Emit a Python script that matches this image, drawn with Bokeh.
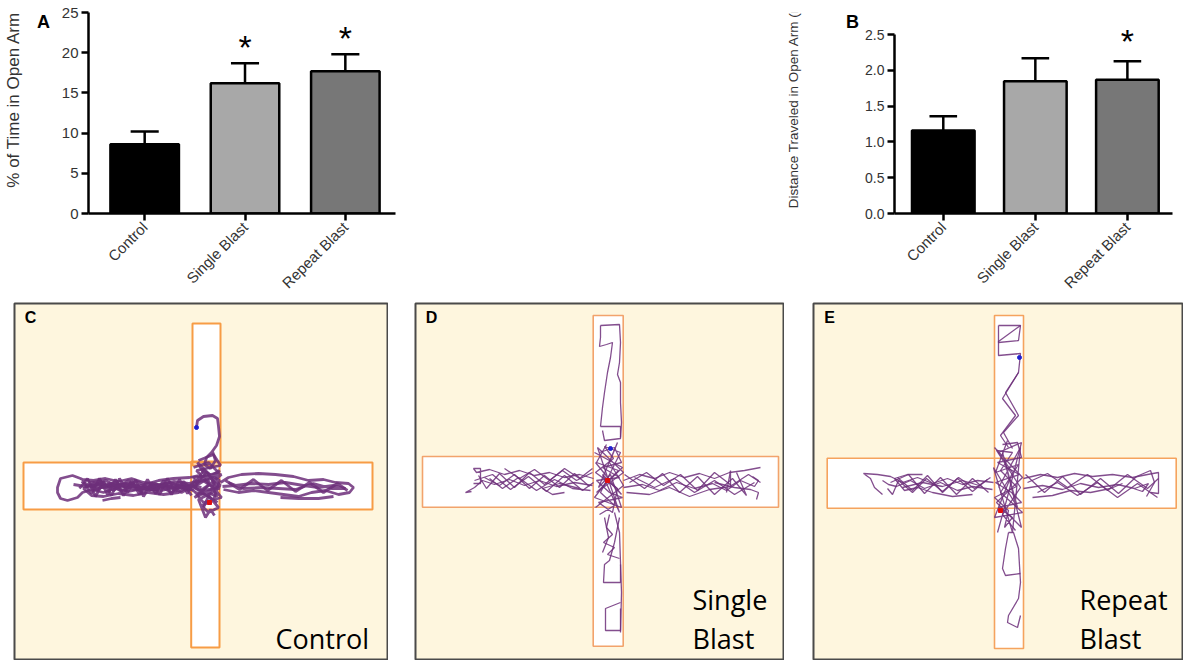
from bokeh.plotting import figure
from bokeh.layouts import column, row
from bokeh.models import Range1d, FixedTicker, Spacer
from bokeh.core.properties import value
from bokeh.embed import file_html
from bokeh.resources import INLINE

# ---------------- data ----------------
groups = ["Control", "Single Blast", "Repeat Blast"]
group_pos = [1, 2, 3]
bar_colors = ["#000000", "#a8a8a8", "#777777"]

time_mean = [8.6, 16.2, 17.7]
time_sem = [1.6, 2.5, 2.1]
time_star = [False, True, True]
time_ticks = [0, 5, 10, 15, 20, 25]

dist_mean = [1.16, 1.85, 1.87]
dist_sem = [0.20, 0.32, 0.26]
dist_star = [False, False, True]
dist_ticks = [0.0, 0.5, 1.0, 1.5, 2.0, 2.5]

# maze arms per panel (left, right, top, bottom) in panel pixel coords
maze_C = [(10, 359, 160, 207), (179, 207, 21, 163), (177.7, 206, 159, 345)]
maze_D = [(8, 364, 154, 204.7), (178.7, 208.7, 13, 343.7)]
maze_E = [(14.7, 363.7, 155.7, 205.7), (182, 211, 13, 346)]

track_C = [
    [(183,125),(184,118),(190,114),(199,113),(204,116),(205,124),(206,134),(203,143),(198,150),(193,155),(191,162),(197,166),(202,158),(199,149)],
    [(186,178),(175,181),(160,179),(145,182),(130,180),(118,176),(105,179),(92,176),(80,178),(69,177),(67,176),(59,173),(47,176),(44,185),(44,190),(47,196),(54,198),(64,195),(69,190),(78,187),(90,190),(102,186),(115,189),(130,186),(148,188),(163,185),(178,187)],
    [(178,182),(165,190),(150,192),(135,190),(120,193),(105,191),(90,194),(78,193),(70,186),(80,181),(95,183),(112,181),(128,183),(145,178),(160,176),(176,175),(185,173)],
    [(60,182),(72,184),(85,182),(100,185),(118,184),(138,187),(155,184),(172,183),(188,185)],
    [(75,180),(88,179),(100,188),(115,178),(128,190),(142,181),(158,190),(170,179),(182,190)],
    [(70,180),(78,191),(86,176),(94,192),(102,177),(110,193),(118,178),(126,192),(134,177),(142,191),(150,178),(158,192),(166,177),(174,191),(182,176)],
    [(66,186),(74,176),(82,194),(90,179),(98,193),(106,176),(114,190),(122,177),(130,194),(138,180),(146,192),(154,176),(162,189),(170,181),(178,193)],
    [(72,183),(90,185),(108,182),(126,185),(144,183),(162,186),(180,183)],
    [(80,188),(100,180),(120,187),(140,184),(160,181),(180,188)],
    [(68,179),(84,187),(96,181),(108,189),(120,182),(136,188),(152,182),(168,190),(184,181)],
    [(76,185),(92,178),(104,184),(124,179),(140,188),(156,180),(172,186),(186,178)],
    [(89,198),(98,196),(107,195)],
    [(207,180),(215,175),(228,172),(245,171),(262,172),(280,174),(295,178),(310,177),(322,180),(335,181),(340,185),(336,190),(325,192),(312,188),(298,190),(285,194),(270,192),(255,190),(240,188),(225,190),(210,187)],
    [(209,184),(222,183),(238,181),(255,182),(272,180),(290,183),(305,185),(320,183),(332,186),(318,186),(300,181),(282,187),(265,186),(248,185),(230,186),(215,180)],
    [(212,178),(226,187),(240,177),(254,188),(268,178),(282,189),(296,180),(310,190),(324,181),(334,188)],
    [(267,195),(285,196),(305,196),(320,194)],
    [(180,165),(195,160),(205,170),(185,175),(200,185),(208,195),(190,200),(182,190),(195,193),(205,205),(195,210),(188,203),(200,198),(206,178),(190,168),(182,180),(198,176),(203,188),(185,197),(192,215),(197,207),(201,213)],
    [(185,158),(200,152),(207,163),(183,168),(196,182),(187,188),(206,186),(193,170),(181,185),(204,200)],
    [(179,175),(208,172),(181,195),(207,183),(184,160),(204,194),(180,185),(206,168),(190,205),(202,178)],
]

track_D = [
    [(186,23),(205,22),(206,40),(205,60),(203,72),(206,80),(206,100),(207,120),(206,135)],
    [(186,23),(186,35),(185,44),(192,42),(198,40),(196,55),(193,70),(190,90),(188,105),(186,124)],
    [(186,124),(206,124),(206,136),(190,138),(188,128)],
    [(200,210),(205,230),(206,260),(207,290),(206,330)],
    [(195,212),(192,225),(198,232),(189,240),(200,245),(193,252),(205,256)],
    [(205,215),(200,240),(195,258),(190,262),(189,280),(206,280),(206,262)],
    [(206,300),(191,306),(191,328),(206,328),(206,306)],
    [(190,215),(194,235),(188,250)],
    [(179,176),(165,172),(150,175),(135,170),(120,173),(105,168),(90,172),(75,167),(62,170),(59,166),(66,166),(66,181),(59,181)],
    [(178,183),(160,180),(142,184),(125,178),(110,183),(95,177),(80,182),(68,178),(60,185),(51,190),(57,189)],
    [(178,170),(162,178),(148,168),(130,182),(115,170),(100,185),(85,171),(72,186),(64,173)],
    [(176,188),(158,186),(140,177),(122,188),(104,175),(88,186),(75,176)],
    [(150,190),(138,192),(128,186),(145,181),(165,186)],
    [(70,175),(85,183),(100,172),(115,186),(130,173),(145,185),(160,171),(175,184)],
    [(60,178),(78,172),(96,187),(114,174),(132,189),(150,173),(168,188),(179,180)],
    [(90,166),(105,176),(120,167),(135,178),(150,166),(165,176),(178,166)],
    [(209,178),(225,172),(240,176),(255,170),(270,175),(285,171),(300,176),(315,170),(330,168),(346,165)],
    [(209,185),(228,182),(245,188),(262,180),(280,186),(298,181),(312,188),(326,178),(340,184),(344,178),(338,174)],
    [(210,172),(230,186),(248,171),(265,190),(283,174),(300,192),(318,176),(332,193),(322,170)],
    [(212,190),(235,192),(255,185),(275,194),(295,187),(316,184),(316,168),(312,190)],
    [(300,180),(320,185),(336,187),(344,190),(342,197)],
    [(215,180),(232,170),(249,183),(266,172),(283,188),(300,170),(317,183),(334,172),(346,180)],
    [(220,175),(240,185),(260,176),(280,190),(300,178),(320,192),(340,180)],
    [(185,150),(200,145),(207,160),(188,165),(205,175),(182,178),(195,190),(208,195),(184,200),(198,210),(203,186),(181,170),(199,156),(190,144),(206,150),(186,190),(200,203),(185,212)],
    [(192,142),(182,160),(204,168),(190,182),(180,195),(207,205),(196,172),(184,185),(203,140),(195,160),(209,183),(181,205)],
    [(180,150),(208,165),(182,190),(209,170),(183,145),(205,210),(188,172),(207,192),(181,160)],
]

track_E = [
    [(186,23),(208,23),(206,38),(186,40),(186,23)],
    [(208,23),(186,39),(186,53),(208,51),(206,70),(190,96),(203,113),(188,133),(196,145)],
    [(206,70),(193,90),(206,113),(191,130),(200,146)],
    [(196,230),(201,230),(206,246),(208,280),(206,296),(196,313),(195,320),(205,325),(208,313)],
    [(196,230),(193,246),(190,266),(193,273),(208,271)],
    [(181,180),(165,178),(150,182),(135,176),(120,181),(105,175),(90,180),(78,174),(65,172),(51,171),(58,176),(62,185),(70,192)],
    [(180,187),(160,184),(145,188),(128,180),(112,186),(98,178),(84,184),(76,182),(70,178)],
    [(178,175),(162,186),(146,175),(130,189),(114,176),(100,190),(86,178),(80,192),(75,186)],
    [(160,192),(140,194),(120,190),(105,185),(92,188),(82,176),(95,172),(110,172)],
    [(85,175),(100,188),(115,173),(130,190),(145,176),(160,189),(175,177)],
    [(78,180),(96,172),(112,191),(128,175),(144,192),(160,176),(176,190)],
    [(90,185),(110,180),(130,184),(150,178),(170,184)],
    [(211,176),(228,172),(245,175),(262,171),(280,174),(300,172),(320,175),(335,172),(346,170),(346,191),(338,190)],
    [(211,186),(230,183),(250,187),(268,181),(286,185),(305,182),(322,186),(336,181),(330,189),(315,184)],
    [(213,172),(232,190),(250,174),(268,192),(288,176),(306,191),(324,174),(338,168),(342,180),(334,194)],
    [(220,195),(240,193),(258,188),(278,190),(298,186),(310,181)],
    [(215,180),(235,171),(255,185),(275,172),(295,188),(315,172),(335,186),(346,176)],
    [(225,190),(245,180),(265,193),(285,180),(305,195),(325,181),(345,195)],
    [(190,142),(205,140),(209,155),(185,160),(207,172),(183,180),(199,190),(209,200),(186,205),(200,215),(192,225),(196,208),(182,195),(204,184),(188,168),(200,150),(184,148),(208,185),(190,212),(203,228)],
    [(195,138),(183,170),(206,162),(188,190),(210,210),(182,215),(200,170),(186,150),(209,140),(194,198),(185,230)],
    [(182,145),(210,175),(184,200),(209,225),(190,150),(205,205),(181,165),(200,230),(208,145),(186,185)],
]

start_C, end_C = (183, 125), (196, 200)
start_D, end_D = (196, 146), (193, 178)
start_E, end_E = (207, 55), (188, 208)

FONT = "Liberation Sans"
TOP_H = 302


def side_strip(width, letter, letter_x, ylabel, label_y, lab_size):
    """Left strip holding the panel letter and the rotated y-axis title (y measured upward)."""
    s = figure(width=width, height=TOP_H, x_range=Range1d(0, width), y_range=Range1d(0, TOP_H),
               output_backend="svg", toolbar_location=None, x_axis_type=None, y_axis_type=None,
               min_border=0)
    s.grid.visible = False
    s.outline_line_color = None
    s.text(x=[letter_x], y=[TOP_H - 15], text=[letter], text_font=value(FONT), text_font_style="bold",
           text_font_size="18px", text_align="center", text_baseline="middle", text_color="black")
    s.text(x=[13], y=[TOP_H - label_y], text=[ylabel], angle=1.5708, text_font=value(FONT),
           text_font_size=lab_size, text_align="center", text_baseline="middle", text_color="#333333")
    return s


def bar_panel(width, means, sems, stars, ticks, borders, xr, ytop, bar_w, cap_half, star_off,
              fmt_dec, tick_size):
    bl, br, bt, bb = borders
    p = figure(width=width, height=TOP_H, x_range=Range1d(*xr), y_range=Range1d(0, ytop),
               output_backend="svg", toolbar_location=None,
               min_border_left=bl, min_border_right=br, min_border_top=bt, min_border_bottom=bb)
    p.grid.visible = False
    p.outline_line_color = None
    tops = [m + s for m, s in zip(means, sems)]
    p.segment(x0=group_pos, y0=means, x1=group_pos, y1=tops, line_color="black", line_width=2.5)
    p.segment(x0=[x - cap_half for x in group_pos], y0=tops, x1=[x + cap_half for x in group_pos],
              y1=tops, line_color="black", line_width=2.5)
    p.vbar(x=group_pos, top=means, width=bar_w, fill_color=bar_colors, line_color="black", line_width=2.5)
    sx = [x for x, s in zip(group_pos, stars) if s]
    sy = [t for t, s in zip(tops, stars) if s]
    p.text(x=sx, y=sy, text=["*"] * len(sx), text_font=value(FONT), text_font_size="34px",
           text_align="center", text_baseline="middle", y_offset=star_off, text_color="black")
    for ax in (p.xaxis[0], p.yaxis[0]):
        ax.axis_line_width = 2.5
        ax.major_tick_line_width = 2.5
        ax.major_tick_out = 7
        ax.major_tick_in = 0
        ax.minor_tick_line_color = None
        ax.major_label_text_font = FONT
        ax.major_label_text_color = "#333333"
    p.yaxis.ticker = FixedTicker(ticks=ticks)
    p.yaxis.bounds = (0, ticks[-1])
    p.yaxis.major_label_text_font_size = tick_size
    p.yaxis.major_label_standoff = 3
    if fmt_dec:
        p.yaxis.major_label_overrides = {t: f"{t:.1f}" for t in ticks}
    p.xaxis.ticker = FixedTicker(ticks=group_pos)
    p.xaxis.major_label_overrides = {x: g for x, g in zip(group_pos, groups)}
    p.xaxis.major_label_orientation = 0.785398
    p.xaxis.major_label_text_font_size = "15px"
    p.xaxis.major_label_standoff = 4
    return p


sA = side_strip(58, "A", 43, "% of Time in Open Arm", 131, "17px")
pA = bar_panel(342, time_mean, time_sem, time_star, time_ticks, (28, 5, 12, 89), (0.44, 3.5), 25,
               0.683, 0.14, -16, False, "15px")
sB = side_strip(82, "B", 72, "Distance Traveled in Open Arm (m)", 135, "13.5px")
pB = bar_panel(330, dist_mean, dist_sem, dist_star, dist_ticks, (28, 20, 10, 81), (0.47, 3.49), 2.81,
               0.68, 0.15, -20, True, "14px")


def maze_panel(width, height, arms, tracks, start, end, letter, words, word_xy, orange, owidth, twidth):
    p = figure(width=width, height=height, x_range=Range1d(1, width - 1), y_range=Range1d(height - 1, 1),
               output_backend="svg", toolbar_location=None, x_axis_type=None, y_axis_type=None,
               min_border=1)
    p.grid.visible = False
    p.background_fill_color = "#fef6de"
    p.border_fill_color = "#fef6de"
    p.outline_line_color = "#4a4a4a"
    p.outline_line_width = 2
    L = [a[0] for a in arms]; R = [a[1] for a in arms]
    T = [a[2] for a in arms]; B = [a[3] for a in arms]
    p.quad(left=L, right=R, top=T, bottom=B, fill_color="white", line_color=None)
    p.quad(left=L, right=R, top=T, bottom=B, fill_color=None, line_color=orange, line_width=owidth)
    p.multi_line(xs=[[pt[0] for pt in tr] for tr in tracks], ys=[[pt[1] for pt in tr] for tr in tracks],
                 line_color="#6d2f7a", line_width=twidth, line_alpha=0.85)
    p.scatter(x=[start[0]], y=[start[1]], size=4, color="#2020d0")
    p.scatter(x=[end[0]], y=[end[1]], size=4, marker="square", color="#e01010")
    p.text(x=[17], y=[15], text=[letter], text_font=value(FONT), text_font_style="bold",
           text_font_size="16px", text_align="center", text_baseline="middle")
    p.text(x=[w[0] for w in word_xy], y=[w[1] for w in word_xy], text=words,
           text_font=value("Open Sans"), text_font_size="27px", text_align="left",
           text_baseline="alphabetic", text_color="black")
    return p


BOT_H = 358
pC = maze_panel(375, BOT_H, maze_C, track_C, start_C, end_C, "C", ["Control"], [(262, 336)],
                "#f79c45", 2, 2.8)
pD = maze_panel(370, BOT_H, maze_D, track_D, start_D, end_D, "D", ["Single", "Blast"],
                [(278, 297), (278, 336)], "#f2a36c", 1.6, 1.3)
pE = maze_panel(371, BOT_H, maze_E, track_E, start_E, end_E, "E", ["Repeat", "Blast"],
                [(267, 297), (267, 336)], "#f5a35e", 1.6, 1.3)

layout = column(
    row(sA, pA, Spacer(width=380, height=TOP_H), sB, pB),
    row(Spacer(width=13, height=BOT_H), pC, Spacer(width=26, height=BOT_H), pD,
        Spacer(width=28, height=BOT_H), pE),
)

open("out.html", "w").write(file_html(layout, INLINE))
